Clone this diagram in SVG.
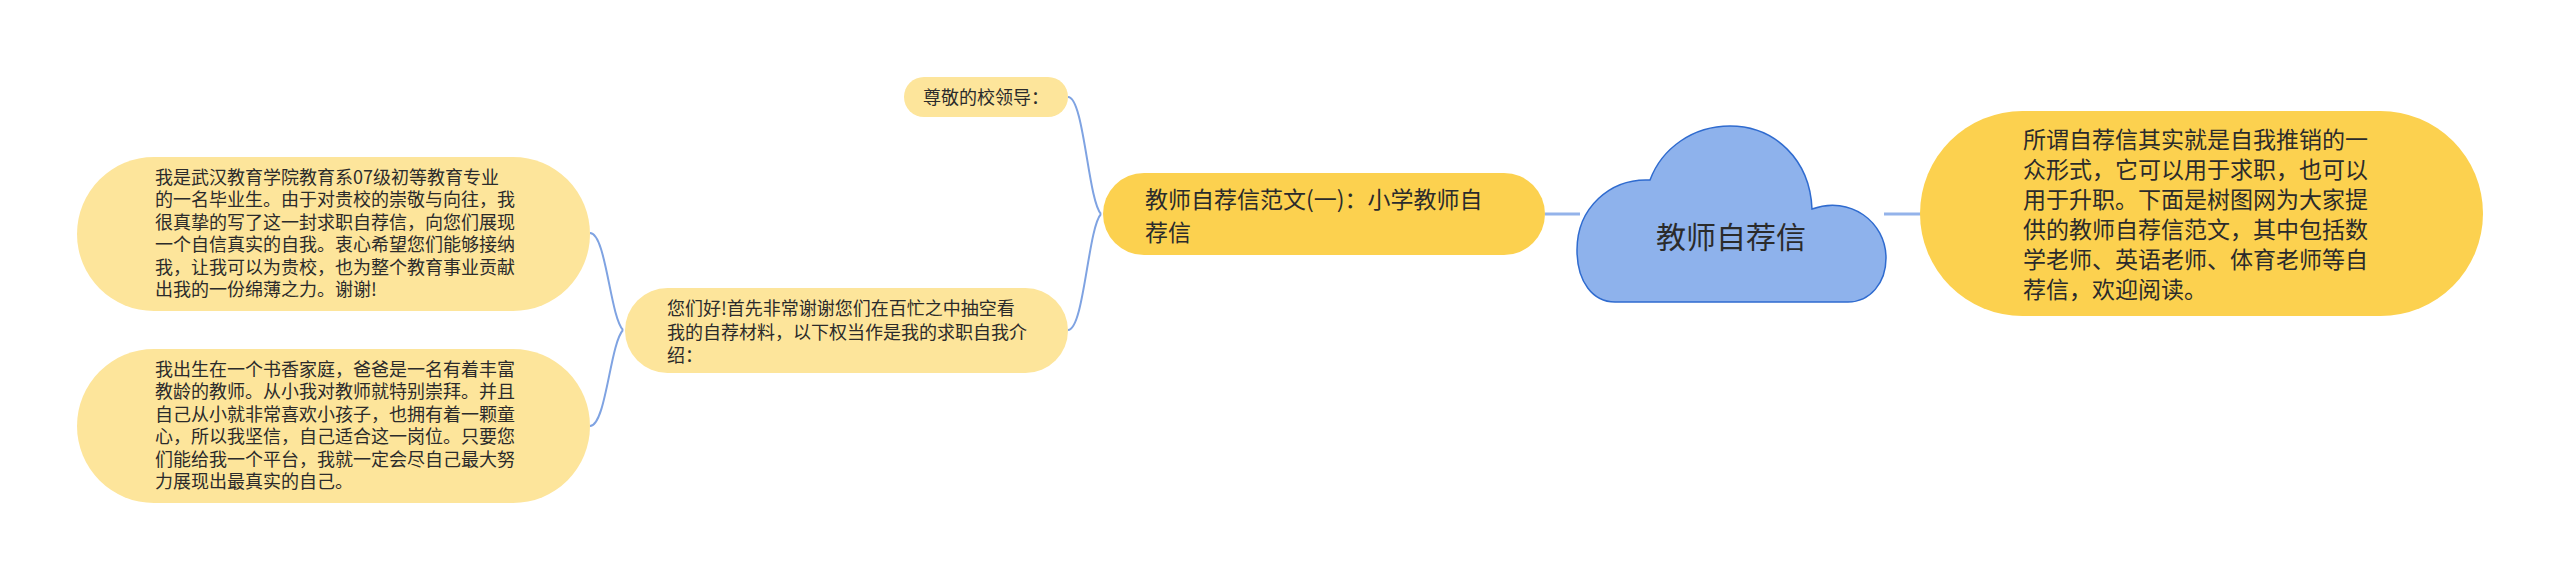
<svg xmlns="http://www.w3.org/2000/svg" width="2560" height="583" viewBox="0 0 2560 583">
<style>
text{font-family:"Noto Sans CJK SC","Noto Sans",sans-serif;fill:#2b2b2b}
.s{font-size:18px}
.m{font-size:23px}
.light{fill:#FDE59B}
.gold{fill:#FCD14F}
.main{stroke:#94B3EA;stroke-width:3;fill:none}
.br{stroke:#7FA3E2;stroke-width:2;fill:none}
</style>
<rect width="2560" height="583" fill="#ffffff"/>
<g id="connectors">
<line class="main" x1="1545" y1="214" x2="1580" y2="214"/>
<line class="main" x1="1884" y1="214" x2="1921" y2="214"/>
<path class="br" d="M1101,214 C1088,200 1084,97 1068,97"/>
<path class="br" d="M1101,214 C1088,228 1084,330 1068,330"/>
<path class="br" d="M623,330 C610,316 606,233 590,233"/>
<path class="br" d="M623,330 C610,344 606,426 590,426"/>
</g>
<g id="root">
<path d="M1615,302 C1593,302 1577,282 1577,250 C1577,208 1610,178 1650,180 C1662,148 1693,126 1730,126 C1775,126 1810,160 1812,209 C1850,195 1886,222 1886,258 C1886,283 1870,302 1848,302 Z" fill="#8EB2EC" stroke="#2F6BCF" stroke-width="1.5"/>
<text x="1731" y="248" text-anchor="middle" style="font-size:30px">教师自荐信</text>
</g>
<g id="intro">
<rect class="gold" x="1920" y="111" width="563" height="205" rx="102.5"/>
<text class="m" x="2023" y="147.5">所谓自荐信其实就是自我推销的一</text>
<text class="m" x="2023" y="177.5">众形式，它可以用于求职，也可以</text>
<text class="m" x="2023" y="207.5">用于升职。下面是树图网为大家提</text>
<text class="m" x="2023" y="237.5">供的教师自荐信范文，其中包括数</text>
<text class="m" x="2023" y="267.5">学老师、英语老师、体育老师等自</text>
<text class="m" x="2023" y="297.5">荐信，欢迎阅读。</text>
</g>
<g id="sample1">
<rect class="gold" x="1103" y="173" width="442" height="82" rx="41"/>
<text class="m" x="1145" y="207.5">教师自荐信范文(一)：小学教师自</text>
<text class="m" x="1145" y="241">荐信</text>
</g>
<g id="greeting">
<rect class="light" x="904" y="77" width="164" height="40" rx="20"/>
<text class="s" x="923" y="104">尊敬的校领导：</text>
</g>
<g id="hello">
<rect class="light" x="625" y="288" width="443" height="85" rx="42.5"/>
<text class="s" x="667" y="315">您们好!首先非常谢谢您们在百忙之中抽空看</text>
<text class="s" x="667" y="338.5">我的自荐材料，以下权当作是我的求职自我介</text>
<text class="s" x="667" y="362">绍：</text>
</g>
<g id="para1">
<rect class="light" x="77" y="157" width="513" height="154" rx="77"/>
<text class="s" x="155" y="183.5">我是武汉教育学院教育系07级初等教育专业</text>
<text class="s" x="155" y="206">的一名毕业生。由于对贵校的崇敬与向往，我</text>
<text class="s" x="155" y="228.5">很真挚的写了这一封求职自荐信，向您们展现</text>
<text class="s" x="155" y="251">一个自信真实的自我。衷心希望您们能够接纳</text>
<text class="s" x="155" y="273.5">我，让我可以为贵校，也为整个教育事业贡献</text>
<text class="s" x="155" y="296">出我的一份绵薄之力。谢谢!</text>
</g>
<g id="para2">
<rect class="light" x="77" y="349" width="513" height="154" rx="77"/>
<text class="s" x="155" y="375.5">我出生在一个书香家庭，爸爸是一名有着丰富</text>
<text class="s" x="155" y="398">教龄的教师。从小我对教师就特别崇拜。并且</text>
<text class="s" x="155" y="420.5">自己从小就非常喜欢小孩子，也拥有着一颗童</text>
<text class="s" x="155" y="443">心，所以我坚信，自己适合这一岗位。只要您</text>
<text class="s" x="155" y="465.5">们能给我一个平台，我就一定会尽自己最大努</text>
<text class="s" x="155" y="488">力展现出最真实的自己。</text>
</g>
</svg>
